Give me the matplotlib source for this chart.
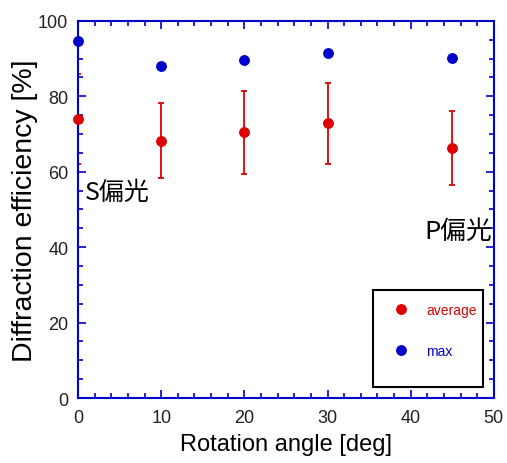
import matplotlib.pyplot as plt
from matplotlib.lines import Line2D
from matplotlib.patches import Rectangle

# data
angle = [0, 10, 20, 30, 45]
avg_eff = [74.0, 68.2, 70.5, 72.8, 66.3]
avg_err = [12.0, 10.0, 11.0, 10.7, 9.9]
max_eff = [94.7, 88.0, 89.5, 91.4, 90.2]

RED = '#dd0000'
BLUE = '#0000cc'

plt.rcParams['font.family'] = ['Liberation Sans', 'DejaVu Sans']

fig = plt.figure(figsize=(5.07, 4.64), dpi=100)
ax = fig.add_axes([0.154, 0.140, 0.820, 0.813])

# error bars under the spines, markers on top of them
ax.errorbar(angle, avg_eff, yerr=avg_err, fmt='none', ecolor=RED,
            elinewidth=1.3, capsize=2.5, capthick=1.3, zorder=2)
ax.plot(angle, avg_eff, 'o', color=RED, markersize=6.8, clip_on=False, zorder=3)
ax.plot(angle, max_eff, 'o', color=BLUE, markersize=6.8, clip_on=False, zorder=3)

ax.set_xlim(0, 50)
ax.set_ylim(0, 100)
ax.set_xticks(range(0, 51, 10))
ax.set_xticks(range(0, 51, 2), minor=True)
ax.set_yticks(range(0, 101, 20))
ax.set_yticks(range(0, 101, 5), minor=True)
ax.tick_params(which='both', direction='in', top=True, right=True,
               color=BLUE, width=1.2, labelsize=13, labelcolor='#222222')
ax.tick_params(which='major', length=6)
ax.tick_params(which='minor', length=3.5)
ax.tick_params(axis='x', pad=8)
ax.tick_params(axis='y', pad=7)
for s in ax.spines.values():
    s.set_color(BLUE)
    s.set_linewidth(1.5)
    s.set_zorder(2.5)

ax.set_xlabel('Rotation angle [deg]', fontsize=17, labelpad=5)
ax.set_ylabel('Diffraction efficiency [%]', fontsize=20.5, labelpad=0)

cjk = ['Noto Sans CJK JP', 'DejaVu Sans']
ax.text(0.8, 54.5, 'S偏光', fontsize=18, family=cjk, ha='left', va='center')
ax.text(41.6, 44.3, 'P偏光', fontsize=18.5, family=cjk, ha='left', va='center')

# legend box
ax.add_patch(Rectangle((0.709, 0.029), 0.265, 0.257, transform=ax.transAxes,
                       fill=False, edgecolor='black', linewidth=1.5, zorder=4))
handles = [Line2D([], [], ls='none', marker='o', color=RED, markersize=6.8),
           Line2D([], [], ls='none', marker='o', color=BLUE, markersize=6.8)]
leg = ax.legend(handles, ['average', 'max'], loc='upper left',
                bbox_to_anchor=(0.711, 0.303), frameon=False,
                fontsize=10, handlelength=1.2, handletextpad=1.2,
                labelspacing=1.9, borderpad=0.9, numpoints=1)
for txt, c in zip(leg.get_texts(), [RED, BLUE]):
    txt.set_color(c)

fig.savefig('out.png', dpi=100)
